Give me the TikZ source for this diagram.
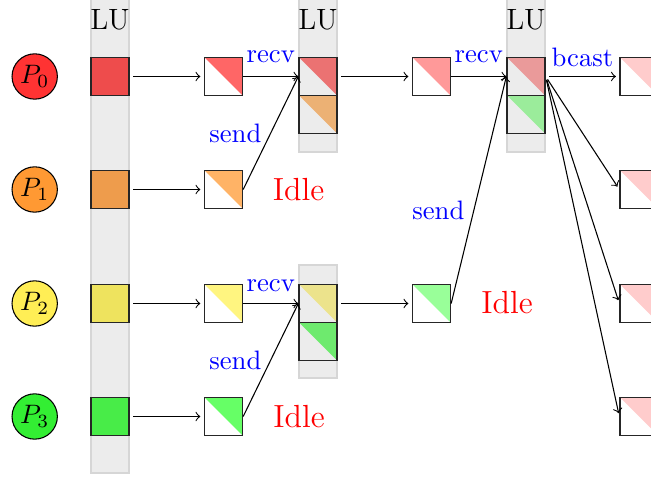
\documentclass[tikz,border=0pt]{standalone}
\usepackage{xcolor}
% process colours
\definecolor{pRed}{HTML}{FF3333}
\definecolor{pOrange}{HTML}{FF9933}
\definecolor{pYellow}{HTML}{FFEE55}
\definecolor{pGreen}{HTML}{33EE33}
% blocks factored in the first LU step
\definecolor{aRed}{HTML}{EE4C4C}
\definecolor{aOrange}{HTML}{EE9C4C}
\definecolor{aYellow}{HTML}{EEE35E}
\definecolor{aGreen}{HTML}{48EC48}
% local triangular factors
\definecolor{bRed}{HTML}{FF6666}
\definecolor{bOrange}{HTML}{FFB366}
\definecolor{bYellow}{HTML}{FFF580}
\definecolor{bGreen}{HTML}{66FF66}
% second LU step
\definecolor{lRed}{HTML}{EB7272}
\definecolor{lOrange}{HTML}{ECB174}
\definecolor{lYellow}{HTML}{ECE38C}
\definecolor{lGreen}{HTML}{6EEA6E}
% third column
\definecolor{cRed}{HTML}{FF9999}
\definecolor{cGreen}{HTML}{99FF99}
% final LU step and broadcast result
\definecolor{mRed}{HTML}{EA9A9A}
\definecolor{mGreen}{HTML}{9BEC9B}
\definecolor{dRed}{HTML}{FFCCCC}
\definecolor{bandFill}{HTML}{ECECEC}
\definecolor{bandDraw}{HTML}{D6D6D6}
\begin{document}
\begin{tikzpicture}[x=0.375pt,y=-0.375pt,
  proc/.style={circle,draw=black,fill=#1,inner sep=0pt,minimum size=17pt},
  fullblk/.style={draw=black!85,line width=0.5pt,fill=#1,minimum size=14.25pt,inner sep=0pt},
  halfblk/.style={draw=black!85,line width=0.5pt,minimum size=14.25pt,inner sep=0pt,
    path picture={\fill[#1] (path picture bounding box.north west) --
      (path picture bounding box.north east) --
      (path picture bounding box.south east) -- cycle;}},
  band/.style={fill=bandFill,draw=bandDraw,line width=0.6pt},
  lulabel/.style={font=\fontsize{11}{13}\selectfont},
  flow/.style={->,shorten <=1.3pt,shorten >=1.3pt},
  msg/.style={->},
  lbl/.style={text=blue},
  idle/.style={text=red,font=\large}
]
\useasboundingbox (0,0) rectangle (651,479);

% LU bands
\path[band] (91,-2) rectangle (129,472.7);
\path[band] (299,-2) rectangle (337,152);
\path[band] (299,265) rectangle (337,378);
\path[band] (507,-2) rectangle (545,152);

\node[lulabel] (lu1) at (110,20) {LU};
\node[lulabel] (lu2) at (318,20) {LU};
\node[lulabel] (lu3) at (526,20) {LU};

% processes
\node[proc=pRed]    (p0) at (34.7,76.5)  {$P_0$};
\node[proc=pOrange] (p1) at (34.7,189.5) {$P_1$};
\node[proc=pYellow] (p2) at (34.7,303.5) {$P_2$};
\node[proc=pGreen]  (p3) at (34.7,416.5) {$P_3$};

% first LU step
\node[fullblk=aRed]    (a0) at (110,76.5)  {};
\node[fullblk=aOrange] (a1) at (110,189.5) {};
\node[fullblk=aYellow] (a2) at (110,303.5) {};
\node[fullblk=aGreen]  (a3) at (110,416.5) {};

% triangular factors
\node[halfblk=bRed]    (b0) at (223.5,76.5)  {};
\node[halfblk=bOrange] (b1) at (223.5,189.5) {};
\node[halfblk=bYellow] (b2) at (223.5,303.5) {};
\node[halfblk=bGreen]  (b3) at (223.5,416.5) {};

% second LU step
\node[halfblk=lRed]    (l2a) at (318,76.5)  {};
\node[halfblk=lOrange] (l2b) at (318,114.5) {};
\node[halfblk=lYellow] (l2c) at (318,303.5) {};
\node[halfblk=lGreen]  (l2d) at (318,341.5) {};

% third column
\node[halfblk=cRed]   (c0) at (431.5,76.5)  {};
\node[halfblk=cGreen] (c2) at (431.5,303.5) {};

% final LU step
\node[halfblk=mRed]   (l3a) at (526,76.5)  {};
\node[halfblk=mGreen] (l3b) at (526,114.5) {};

% broadcast targets
\node[halfblk=dRed] (d0) at (639,76.5)  {};
\node[halfblk=dRed] (d1) at (639,189.5) {};
\node[halfblk=dRed] (d2) at (639,303.5) {};
\node[halfblk=dRed] (d3) at (639,416.5) {};

% idle markers
\node[idle] (idle1) at (298.5,190) {Idle};
\node[idle] (idle2) at (507,303)   {Idle};
\node[idle] (idle3) at (299,417)   {Idle};

% connectors
\draw[flow] (a0) -- (b0);
\draw[flow] (a1) -- (b1);
\draw[flow] (a2) -- (b2);
\draw[flow] (a3) -- (b3);

\draw[msg] (b0) -- node[lbl,above,yshift=1.5pt] {recv} (l2a);
\draw[msg] (b1.east) -- node[lbl,left,pos=0.5] {send} (l2a.west);
\draw[msg] (b2) -- node[lbl,above,yshift=1pt] {recv} (l2c);
\draw[msg] (b3.east) -- node[lbl,left,pos=0.5] {send} (l2c.west);

\draw[flow] (l2a) -- (c0);
\draw[flow] (l2c) -- (c2);

\draw[msg] (c0) -- node[lbl,above,yshift=1.5pt] {recv} (l3a);
\draw[msg] (c2.east) -- node[lbl,left,pos=0.41] {send} (l3a.west);

\draw[flow] (l3a) -- node[lbl,above] {bcast} (d0);
\draw[flow] (l3a.east) -- (d1.west);
\draw[flow] (l3a.east) -- (d2.west);
\draw[flow] (l3a.east) -- (d3.west);
\end{tikzpicture}
\end{document}
